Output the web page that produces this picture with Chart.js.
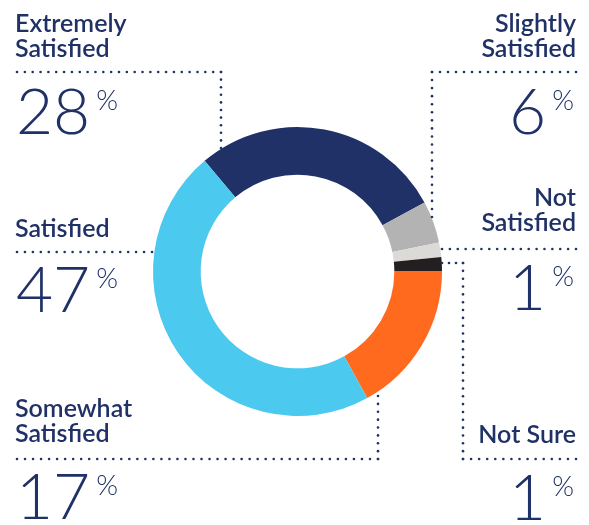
<!DOCTYPE html>
<html>
<head>
<meta charset="utf-8">
<script src="https://cdn.jsdelivr.net/npm/chart.js@4.4.0/dist/chart.umd.min.js"></script>
<style>
  html, body { margin: 0; padding: 0; background: #fff; }
  #wrap { position: relative; width: 589px; height: 525px; overflow: hidden; }
  #chart { position: absolute; left: 0; top: 0; }
  .lbl {
    position: absolute; font-family: 'Lato', sans-serif; font-weight: 600;
    font-size: 25px; line-height: 25px; color: #1f3166; white-space: nowrap;
  }
  .pct {
    position: absolute; display: flex; align-items: flex-start;
    font-family: 'Lato', sans-serif; color: #1f3166; white-space: nowrap;
  }
  .pct .num { font-size: 64px; line-height: 64px; font-weight: 300; }
  .pct .sign { font-size: 28px; line-height: 28px; font-weight: 300; margin: 7px 0 0 6px; }
  .r { text-align: right; }
</style>
</head>
<body>
<div id="wrap">
  <canvas id="chart" width="589" height="525"></canvas>
</div>
<script>
// Survey answers, clockwise from the navy slice
const categories = ['Extremely Satisfied', 'Slightly Satisfied', 'Not Satisfied', 'Not Sure', 'Somewhat Satisfied', 'Satisfied'];
// printed percentages
const percentLabels = [28, 6, 1, 1, 17, 47];
// arc shares as drawn in the picture (small slices are drawn a bit wider)
const arcShares = [28.2, 4.7, 1.6, 1.6, 17.0, 46.9];
const colors = ['#1f3166', '#b3b3b3', '#dcdad7', '#231f20', '#ff6a1f', '#4bc9ee'];

const INK = '#1f3166';

// label placement — text block + percentage block per category
const labelLayout = [
  { lines: ['Extremely', 'Satisfied'], side: 'left', x: 15, top: 10, numTop: 78 },
  { lines: ['Slightly', 'Satisfied'], side: 'right', x: 13, top: 10, numTop: 78 },
  { lines: ['Not', 'Satisfied'], side: 'right', x: 13, top: 184, numTop: 254 },
  { lines: ['Not Sure'], side: 'right', x: 13, top: 421, numTop: 464 },
  { lines: ['Somewhat', 'Satisfied'], side: 'left', x: 15, top: 395, numTop: 463 },
  { lines: ['Satisfied'], side: 'left', x: 15, top: 215, numTop: 256 },
];

// dotted leader lines (page pixels)
const leaders = [
  [[17, 72], [221, 72], [221, 148]],
  [[576, 72], [432, 72], [432, 217]],
  [[442, 249], [576, 249]],
  [[442, 263], [463, 263], [463, 459], [576, 459]],
  [[17, 459], [378, 459], [378, 396]],
  [[17, 252], [152, 252]],
];

const wrap = document.getElementById('wrap');
labelLayout.forEach((l, i) => {
  const t = document.createElement('div');
  t.className = 'lbl' + (l.side === 'right' ? ' r' : '');
  t.style.top = l.top + 'px';
  t.style[l.side] = l.x + 'px';
  t.innerHTML = l.lines.join('<br>');
  wrap.appendChild(t);

  const p = document.createElement('div');
  p.className = 'pct';
  p.style.top = l.numTop + 'px';
  p.style[l.side] = (l.side === 'right' ? l.x + 2 : l.x + 1) + 'px';
  const n = document.createElement('span');
  n.className = 'num';
  n.textContent = percentLabels[i];
  const s = document.createElement('span');
  s.className = 'sign';
  s.textContent = '%';
  p.appendChild(n);
  p.appendChild(s);
  wrap.appendChild(p);
});

const leaderPlugin = {
  id: 'leaders',
  afterDraw(chart) {
    const ctx = chart.ctx;
    ctx.save();
    ctx.fillStyle = INK;
    const step = 8;
    for (const line of leaders) {
      for (let k = 0; k < line.length - 1; k += 1) {
        const [x0, y0] = line[k];
        const [x1, y1] = line[k + 1];
        const len = Math.hypot(x1 - x0, y1 - y0);
        const n = Math.max(1, Math.round(len / step));
        for (let j = 0; j <= n; j += 1) {
          const x = x0 + (x1 - x0) * j / n;
          const y = y0 + (y1 - y0) * j / n;
          ctx.beginPath();
          ctx.arc(x, y, 1.3, 0, Math.PI * 2);
          ctx.fill();
        }
      }
    }
    ctx.restore();
  },
};

new Chart(document.getElementById('chart'), {
  type: 'doughnut',
  data: {
    labels: categories,
    datasets: [{
      data: arcShares,
      backgroundColor: colors,
      borderWidth: 0,
    }],
  },
  options: {
    responsive: false,
    animation: false,
    events: [],
    cutout: '67%',
    rotation: -40,
    layout: { padding: { left: 153, right: 147, top: 127, bottom: 109 } },
    plugins: {
      legend: { display: false },
      tooltip: { enabled: false },
    },
  },
  plugins: [leaderPlugin],
});
</script>
</body>
</html>
